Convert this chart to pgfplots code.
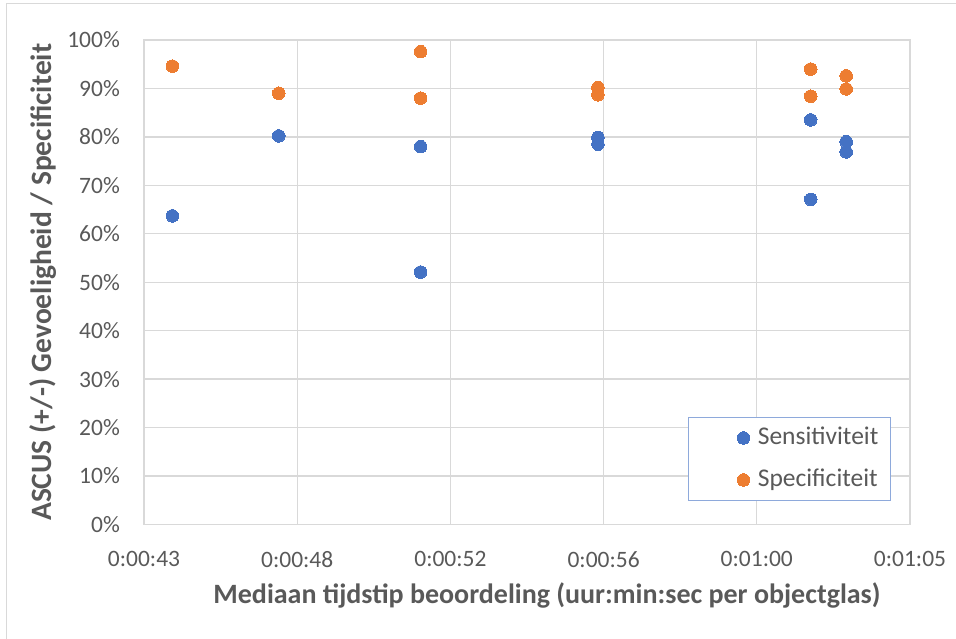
\documentclass[border=0pt]{standalone}
\usepackage{fontspec}
\setmainfont{Carlito}
\usepackage{pgfplots}
\usepackage{pgfplotstable}
\pgfplotsset{compat=1.18}

\definecolor{sensblue}{HTML}{4472C4}
\definecolor{specorange}{HTML}{ED7D31}
\definecolor{gridgray}{HTML}{D9D9D9}
\definecolor{labelgray}{HTML}{595959}
\definecolor{legendblue}{HTML}{8EA9DB}

% median time per slide (s) vs. ASCUS sensitivity / specificity (%)
\pgfplotstableread{
t   val
44  63.7
47  80.2
51  78.0
51  52.1
56  79.9
56  78.5
62  83.5
62  67.1
63  79.0
63  76.9
}\sensdata

\pgfplotstableread{
t   val
44  94.6
47  89.0
51  97.6
51  88.0
56  90.2
56  88.7
62  94.0
62  88.4
63  92.6
63  89.9
}\specdata

\begin{document}
\begin{tikzpicture}
% page = 956 x 639, axis lower left corner at (144,524.5) from the top left
\path[use as bounding box] (-144pt,-114.5pt) rectangle (812pt,524.5pt);
\draw[gridgray, line width=1pt] (-137pt,-114.5pt) -- (-137pt,520.5pt) -- (812pt,520.5pt);
\begin{axis}[
    at={(0pt,0pt)}, anchor=south west,
    scale only axis,
    width=766pt, height=484.5pt,
    xmin=43.2, xmax=64.8,
    ymin=0, ymax=100,
    xtick={43.2,47.52,51.84,56.16,60.48,64.8},
    xticklabels={0:00:43,0:00:48,0:00:52,0:00:56,0:01:00,0:01:05},
    ytick={0,10,20,30,40,50,60,70,80,90,100},
    yticklabels={0\%,10\%,20\%,30\%,40\%,50\%,60\%,70\%,80\%,90\%,100\%},
    grid=major,
    major grid style={draw=gridgray, line width=1.3pt},
    axis line style={draw=gridgray, line width=1.3pt},
    major tick length=0pt,
    tick style={draw=none},
    ticklabel style={font=\fontsize{23.5}{28}\selectfont, text=labelgray, inner sep=0pt},
    yticklabel style={anchor=east, xshift=-24pt},
    xticklabel style={anchor=north, yshift=-26.5pt},
    xlabel={Mediaan tijdstip beoordeling (uur:min:sec per objectglas)},
    ylabel={ASCUS (+/-) Gevoeligheid / Specificiteit},
    label style={text=labelgray, inner sep=0pt},
    xlabel style={font=\bfseries\fontsize{28}{32}\selectfont,
        at={(axis description cs:0.5,0)}, anchor=base, xshift=20pt, yshift=-79pt},
    ylabel style={font=\bfseries\fontsize{29.5}{34}\selectfont,
        at={(axis description cs:0,0.5)}, anchor=base, yshift=92pt},
    legend style={
        at={(rel axis cs:0.7102,0.2219)}, anchor=north west,
        draw=legendblue, line width=1pt, fill=white,
        inner xsep=12pt, inner ysep=10pt,
        font=\fontsize{25.5}{30}\selectfont, text=labelgray,
        nodes={inner sep=0pt, text height=17pt, text depth=4pt},
        row sep=21pt,
        /tikz/every odd column/.append style={column sep=8pt},
    },
    legend cell align=left,
    legend image code/.code={
        \path[draw=none] (-43pt,0pt) -- (0pt,0pt);
        \draw[#1] plot coordinates {(0pt,0pt)};
    },
]
\addplot[only marks, mark=*, mark size=6.3pt,
    mark options={draw=sensblue, fill=sensblue, line width=0pt}]
    table[x=t, y=val] {\sensdata};
\addlegendentry{Sensitiviteit}
\addplot[only marks, mark=*, mark size=6.3pt,
    mark options={draw=specorange, fill=specorange, line width=0pt}]
    table[x=t, y=val] {\specdata};
\addlegendentry{Specificiteit}
\end{axis}
\end{tikzpicture}
\end{document}
